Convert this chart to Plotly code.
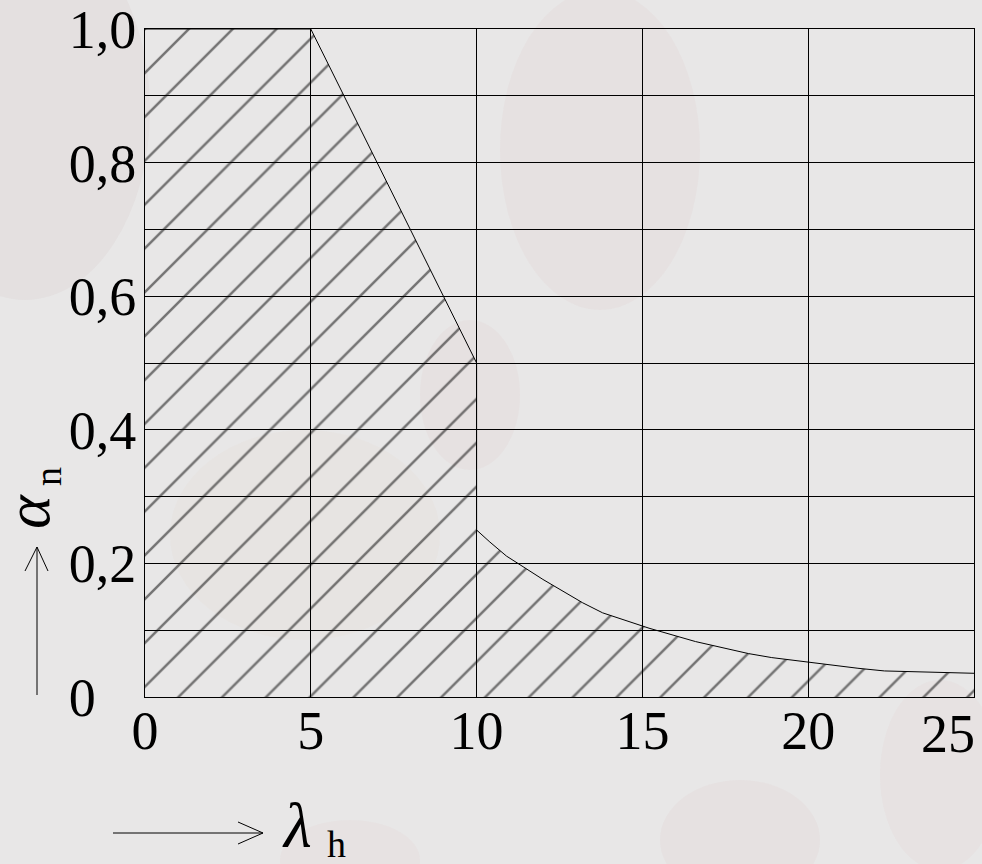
import plotly.graph_objects as go

# Boundary of the admissible region
lam = [0, 5, 10, 10, 10.4, 10.9, 12.0, 13.2, 13.8, 15.2, 16.6, 17.4, 18.2, 18.9,
       20.0, 21.5, 22.3, 24.0, 25.0]
alpha = [1.0, 1.0, 0.5, 0.25, 0.232, 0.211, 0.176, 0.141, 0.126, 0.103, 0.083, 0.074,
         0.065, 0.059, 0.052, 0.043, 0.039, 0.037, 0.0355]

x_ticks = [0, 5, 10, 15, 20, 25]
x_ticktext = ["0", "5", "10", "15", "20", ""]
y_ticks = [0, 0.1, 0.2, 0.3, 0.4, 0.5, 0.6, 0.7, 0.8, 0.9, 1.0]
y_ticktext = ["0\u00a0\u00a0\u00a0", "", "0,2", "", "0,4", "", "0,6", "", "0,8", "", "1,0"]
last_x_label = "25"

FONT = "Liberation Serif"
BG = "#e8e7e7"
W, H = 982, 864
L, R, T, B = 145, 8, 29, 167
PW, PH = W - L - R, H - T - B


def px(x):
    return (x - L) / PW


def py(y):
    return (H - B - y) / PH


fig = go.Figure()
fig.add_trace(go.Scatter(
    x=lam, y=alpha, mode="lines", fill="tozeroy",
    line=dict(color="black", width=1),
    fillcolor="rgba(0,0,0,0)",
    fillpattern=dict(shape="/", size=31, solidity=0.08, fgcolor="black",
                     bgcolor="rgba(0,0,0,0)"),
    hoverinfo="skip", showlegend=False,
))

# faint background blobs (photo-like backdrop)
shapes = []
blobs = [
    (-100, -80, 150, 300, "rgba(190,160,160,0.09)"),
    (500, -10, 700, 310, "rgba(215,150,150,0.07)"),
    (420, 320, 520, 470, "rgba(215,150,150,0.07)"),
    (660, 780, 820, 900, "rgba(215,160,160,0.07)"),
    (280, 820, 420, 900, "rgba(215,160,160,0.06)"),
    (170, 430, 440, 640, "rgba(225,205,175,0.07)"),
    (880, 680, 1000, 870, "rgba(215,160,160,0.06)"),
]
for x0, y0, x1, y1, c in blobs:
    shapes.append(dict(type="circle", xref="paper", yref="paper", layer="below",
                       x0=px(x0), x1=px(x1), y0=py(y1), y1=py(y0),
                       fillcolor=c, line=dict(width=0)))

# axis arrows
arr = dict(color="black", width=1)
shapes += [
    dict(type="line", xref="paper", yref="paper", x0=px(113), y0=py(833), x1=px(263), y1=py(833), line=arr),
    dict(type="line", xref="paper", yref="paper", x0=px(263), y0=py(833), x1=px(238), y1=py(822), line=arr),
    dict(type="line", xref="paper", yref="paper", x0=px(263), y0=py(833), x1=px(238), y1=py(844), line=arr),
    dict(type="line", xref="paper", yref="paper", x0=px(37), y0=py(695), x1=px(37), y1=py(547), line=arr),
    dict(type="line", xref="paper", yref="paper", x0=px(37), y0=py(547), x1=px(25), y1=py(571), line=arr),
    dict(type="line", xref="paper", yref="paper", x0=px(37), y0=py(547), x1=px(48), y1=py(571), line=arr),
]

ann_common = dict(xref="paper", yref="paper", showarrow=False, xanchor="center", yanchor="middle")
annotations = [
    dict(text=last_x_label, x=25, xref="x", y=py(734), yref="paper", xanchor="right",
         yanchor="middle", xshift=3, showarrow=False,
         font=dict(family=FONT, size=54, color="black")),
    dict(text="<i>λ</i>", x=px(297), y=py(825), font=dict(family=FONT, size=64, color="black"), **ann_common),
    dict(text="h", x=px(336), y=py(844), font=dict(family=FONT, size=38, color="black"), **ann_common),
    dict(text="<i>α</i>", x=px(27), y=py(512), textangle=-90,
         font=dict(family=FONT, size=64, color="black"), **ann_common),
    dict(text="n", x=px(48), y=py(477), textangle=-90,
         font=dict(family=FONT, size=38, color="black"), **ann_common),
]

fig.update_layout(
    width=W, height=H,
    margin=dict(l=L, r=R, t=T, b=B, pad=0),
    paper_bgcolor=BG, plot_bgcolor="rgba(0,0,0,0)",
    font=dict(family=FONT, size=54, color="black"),
    shapes=shapes, annotations=annotations,
    xaxis=dict(range=[0, 25], tickvals=x_ticks, ticktext=x_ticktext, automargin=False,
               showgrid=True, gridcolor="black", gridwidth=1, zeroline=False,
               showline=True, linecolor="black", linewidth=1, mirror=True,
               ticks="", ticklabelstandoff=-14, ticklabeloverflow="allow",
               tickfont=dict(family=FONT, size=54, color="black")),
    yaxis=dict(range=[0, 1], tickvals=y_ticks, ticktext=y_ticktext, automargin=False,
               showgrid=True, gridcolor="black", gridwidth=1, zeroline=False,
               showline=True, linecolor="black", linewidth=1, mirror=True,
               ticks="", ticklabelstandoff=-3, ticklabeloverflow="allow",
               tickfont=dict(family=FONT, size=54, color="black")),
)

fig.write_html(
    "out.html",
    config={"displayModeBar": False},
    post_script="document.body.style.margin='0';document.body.style.background='" + BG + "';",
)
